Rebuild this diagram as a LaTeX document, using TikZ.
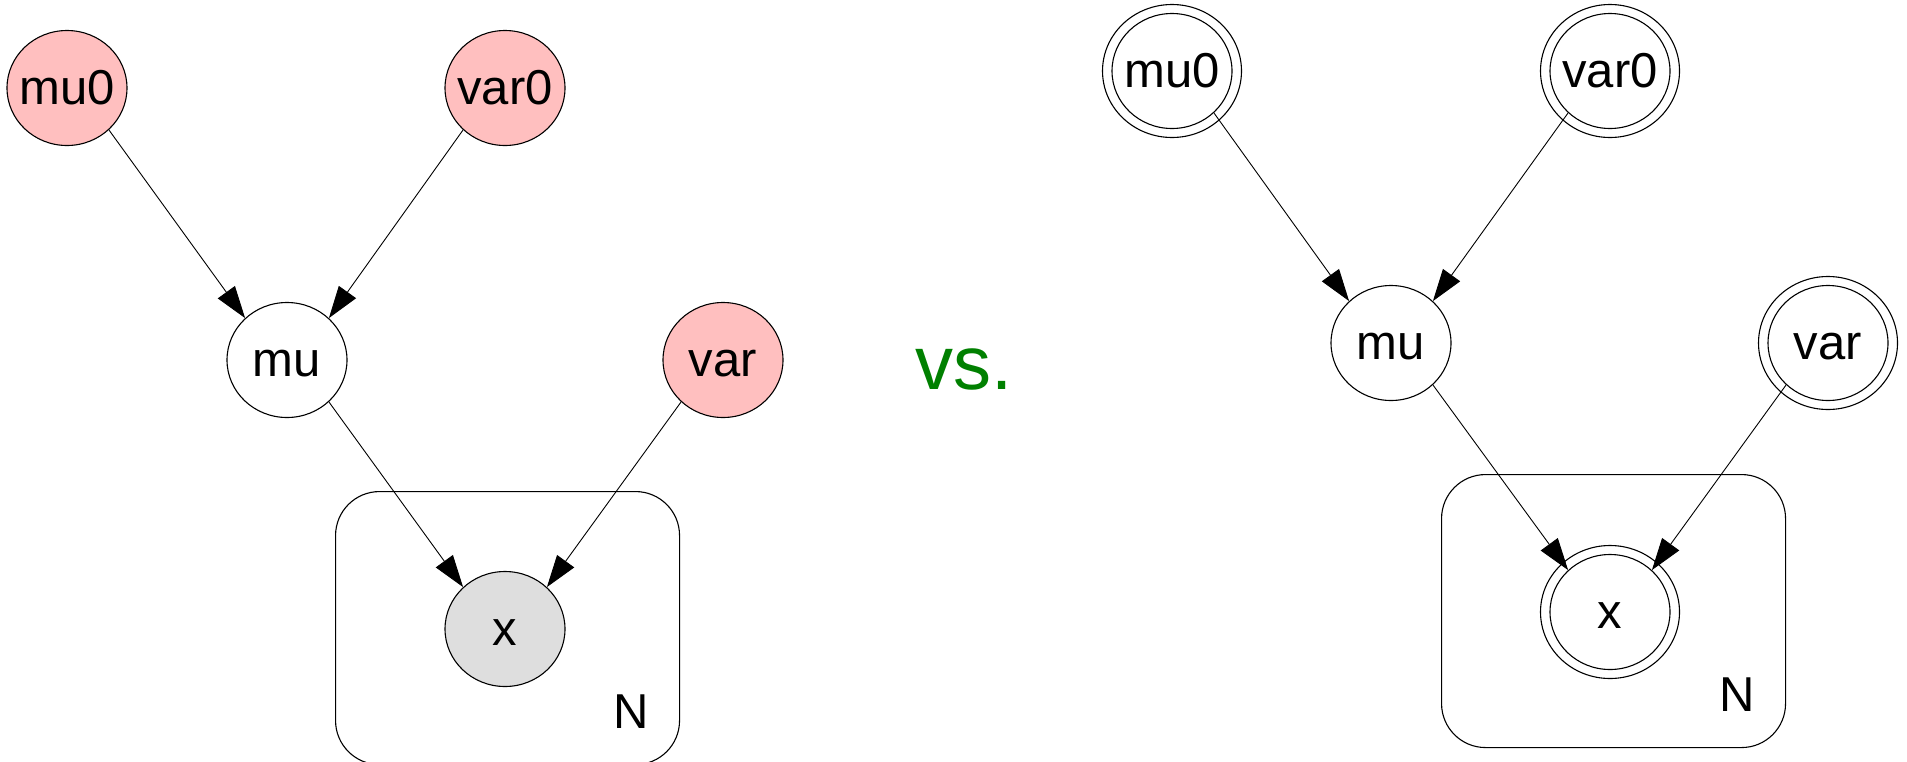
\documentclass[tikz,border=0pt]{standalone}
\usepackage{fontspec}
\setmainfont{Liberation Sans}
\usetikzlibrary{shapes.geometric,arrows.meta}
\definecolor{priorpink}{HTML}{FFBFBF}
\definecolor{obsgray}{HTML}{DEDEDE}
\definecolor{vsgreen}{HTML}{008000}
% zero-width label (with digit height) so the ellipse size comes only from
% minimum width/height and all labels share one baseline
\newcommand{\centred}[1]{\makebox[0pt]{\vphantom{0}#1}}
\begin{document}
\begin{tikzpicture}[x=1pt,y=-1pt,
  rv/.style={ellipse, draw, line width=1.1pt, minimum width=120pt, minimum height=115pt,
             inner sep=0pt, font=\fontsize{49}{58}\selectfont},
  hyper/.style={rv, fill=priorpink},
  obs/.style={rv, fill=obsgray},
  ring/.style={line width=1.1pt},
  plate/.style={draw, line width=1.1pt, rounded corners=44pt, anchor=north west,
                minimum width=344pt, minimum height=273pt, inner sep=0pt},
  platelabel/.style={font=\fontsize{49}{58}\selectfont, anchor=base, inner sep=0pt},
  edge/.style={line width=0.9pt, -{Triangle[length=32pt,width=21pt]}},
]
\useasboundingbox (0,0) rectangle (1907,761);

% ---- left model: coloured nodes ----
\node[plate] (plateL) at (335,491) {};
\node[platelabel] (NL) at (631,728) {N};

\node[hyper] (mu0) at (67,88) {\centred{mu0}};
\node[hyper] (var0) at (505,88) {\centred{var0}};
\node[rv] (mu) at (287,360) {\centred{mu}};
\node[hyper] (var) at (723,360) {\centred{var}};
\node[obs] (x) at (505,629) {\centred{x}};

\draw[edge] (mu0.-45) -- (mu.135);
\draw[edge] (var0.-135) -- (mu.45);
\draw[edge] (mu.-45) -- (x.135);
\draw[edge] (var.-135) -- (x.45);

% ---- separator ----
\node[font=\fontsize{76}{90}\selectfont, text=vsgreen, anchor=base, inner sep=0pt] (vs) at (964,389) {vs.};

% ---- right model: double-ringed nodes ----
\node[plate] (plateR) at (1441,474) {};
\node[platelabel] (NR) at (1737,711) {N};

\node[rv] (rmu0) at (1172,71) {\centred{mu0}};
\node[rv] (rvar0) at (1610,71) {\centred{var0}};
\node[rv] (rmu) at (1391,343) {\centred{mu}};
\node[rv] (rvar) at (1828,343) {\centred{var}};
\node[rv] (rx) at (1610,612) {\centred{x}};

\foreach \n in {rmu0,rvar0,rvar,rx}
  \draw[ring] (\n.center) ellipse [x radius=69.5pt, y radius=66.5pt];

\draw[edge] (rmu0.-45) -- (rmu.135);
\draw[edge] (rvar0.-135) -- (rmu.45);
\draw[edge] (rmu.-45) -- (rx.135);
\draw[edge] (rvar.-135) -- (rx.45);
\end{tikzpicture}
\end{document}
